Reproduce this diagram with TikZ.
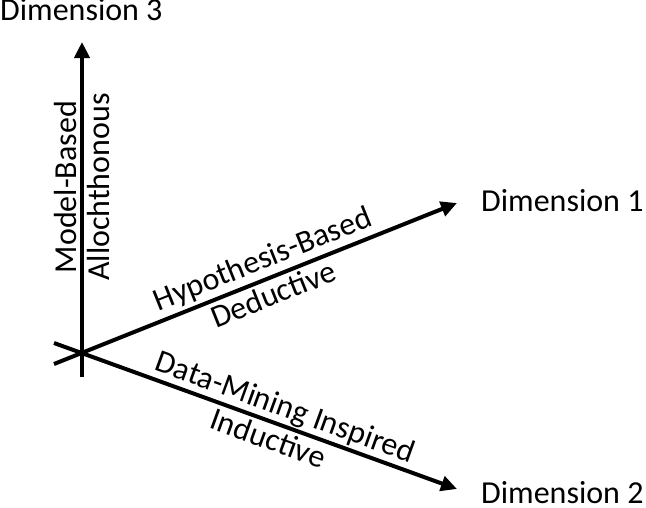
\documentclass[tikz,border=0pt]{standalone}
\usepackage{fontspec}
\setmainfont{Carlito}
\usetikzlibrary{arrows.meta}

\tikzset{
  axis/.style={line width=4pt,-{Triangle[length=16pt,width=15pt]}},
  dimlabel/.style={anchor=base west,inner sep=0pt,font=\fontsize{32}{38}\selectfont},
  axislabel/.style={sloped,inner sep=3pt,font=\fontsize{32}{38}\selectfont}
}

\begin{document}
\begin{tikzpicture}[x=1pt,y=-1pt]
	 \useasboundingbox (0,0) rectangle (646,507);
	 % origin, tails and tips
	 \coordinate (o) at (82,353);
	 \coordinate (t3) at (82,377);
	 \coordinate (t1) at (54,364);
	 \coordinate (t2) at (54,343);
	 \coordinate (tip3) at (82,42);
	 \coordinate (tip1) at (457,203);
	 \coordinate (tip2) at (457,489);
	 % dimension names
	 \node[dimlabel] (dim3) at (0,20) {Dimension 3};
	 \node[dimlabel] (dim1) at (481,211) {Dimension 1};
	 \node[dimlabel] (dim2) at (481,503) {Dimension 2};
	 % axes
	 \draw[axis] (t3) -- (tip3)
	   node[axislabel,above,pos=0.567] (mb) {Model-Based}
	   node[axislabel,below,pos=0.567] (al) {Allochthonous};
	 \draw[axis] (t1) -- (tip1)
	   node[axislabel,above,pos=0.536] (hb) {Hypothesis-Based}
	   node[axislabel,below,pos=0.529] (de) {Deductive};
	 \draw[axis] (t2) -- (tip2)
	   node[axislabel,above,pos=0.558,inner sep=1pt] (dm) {Data-Mining Inspired}
	   node[axislabel,below,pos=0.546] (in) {Inductive};
\end{tikzpicture}
\end{document}
